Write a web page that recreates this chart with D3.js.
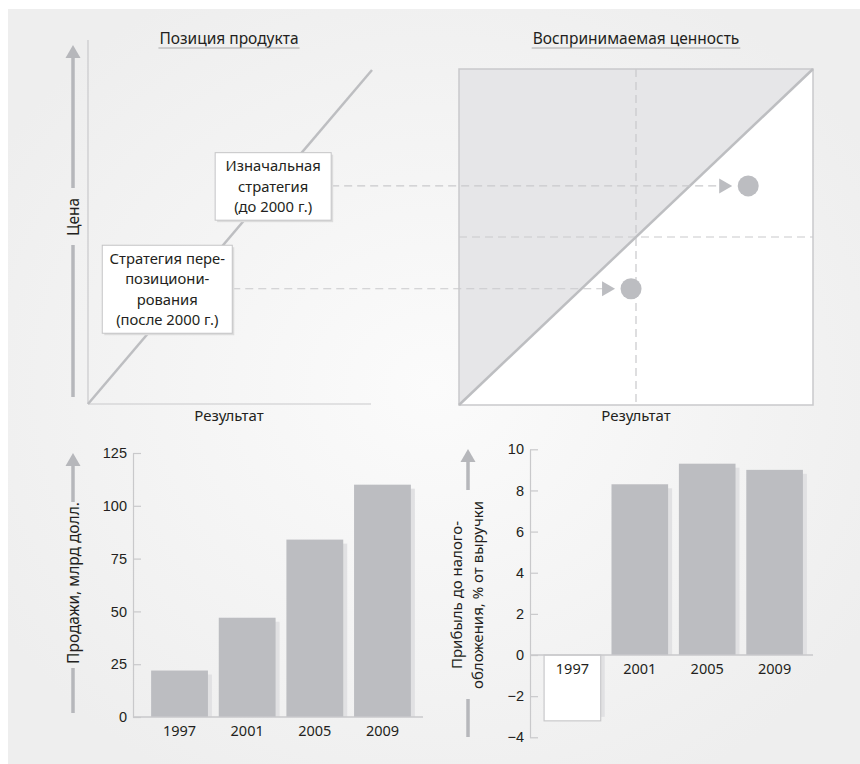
<!DOCTYPE html>
<html>
<head>
<meta charset="utf-8">
<script src="https://cdn.jsdelivr.net/npm/d3@7"></script>
<style>
  body { margin: 0; background: #fff; }
  svg { display: block; font-family: "Noto Sans", "Open Sans", sans-serif; }
  .tick text { font-size: 14.5px; fill: #231f20; }
</style>
</head>
<body>
<div id="chart"></div>
<script>
// data
const years = ["1997", "2001", "2005", "2009"];
const sales = [22, 47, 84, 110];            // млрд долл.
const profit = [-3.2, 8.3, 9.3, 9.0];       // % от выручки
const salesTicks = [0, 25, 50, 75, 100, 125];
const profitTicks = [-4, -2, 0, 2, 4, 6, 8, 10];

// стратегии: результат и цена в долях шкалы
const strategyLabels = [
  ["Изначальная", "стратегия", "(до 2000 г.)"],
  ["Стратегия пере-", "позициони-", "рования", "(после 2000 г.)"]
];
const strategyResult = [0.817, 0.486];
const strategyPrice = [0.652, 0.346];

const width = 860, height = 764;
const barColor = "#bcbdc1", shadowColor = "#e1e1e3", lineColor = "#c9c9cb", textColor = "#231f20";

const svg = d3.select("#chart").append("svg")
  .attr("width", width)
  .attr("height", height);

const defs = svg.append("defs");
const grad = defs.append("radialGradient").attr("id", "bg")
  .attr("cx", "0.5").attr("cy", "0.5").attr("r", "0.6");
grad.append("stop").attr("offset", "0%").attr("stop-color", "#fbfbfb");
grad.append("stop").attr("offset", "100%").attr("stop-color", "#eeeeee");

svg.append("rect")
  .attr("x", 8).attr("y", 9)
  .attr("width", width - 8).attr("height", height - 9)
  .attr("fill", "url(#bg)");

// arrow along a vertical axis; the shaft is broken between gapLow and gapHigh for the label
function axisArrow(x, yBottom, yTop, gapLow, gapHigh) {
  const g = svg.append("g");
  g.append("line").attr("x1", x).attr("x2", x).attr("y1", yBottom).attr("y2", gapLow)
    .attr("stroke", "#b6b7bb").attr("stroke-width", 3.5);
  g.append("line").attr("x1", x).attr("x2", x).attr("y1", gapHigh).attr("y2", yTop + 10)
    .attr("stroke", "#b6b7bb").attr("stroke-width", 3.5);
  g.append("path")
    .attr("d", `M${x},${yTop} L${x + 7.5},${yTop + 13} L${x - 7.5},${yTop + 13} Z`)
    .attr("fill", "#b6b7bb");
}

function title(x, y, txt) {
  const t = svg.append("text").attr("x", x).attr("y", y)
    .attr("text-anchor", "middle").attr("font-size", 15.5).attr("fill", textColor).text(txt);
  const w = t.node().getComputedTextLength();
  svg.append("line").attr("x1", x - w / 2 - 1).attr("x2", x + w / 2 + 1)
    .attr("y1", y + 4).attr("y2", y + 4).attr("stroke", "#a8a8a8").attr("stroke-width", 1);
}

// ---------- top left: позиция продукта ----------
const lx = d3.scaleLinear().domain([0, 1]).range([88, 372]);
const py = d3.scaleLinear().domain([0, 1]).range([404, 70]);

title(229, 44, "Позиция продукта");

svg.append("line").attr("x1", 88).attr("x2", 88).attr("y1", 40).attr("y2", 404)
  .attr("stroke", lineColor).attr("stroke-width", 1.2);
svg.append("line").attr("x1", 88).attr("x2", 371).attr("y1", 404).attr("y2", 404)
  .attr("stroke", lineColor).attr("stroke-width", 1.2);
svg.append("line")
  .attr("x1", lx(0)).attr("y1", py(0)).attr("x2", lx(1)).attr("y2", py(1))
  .attr("stroke", "#bdbec1").attr("stroke-width", 2.5);

axisArrow(73, 397, 45, 245, 188);
svg.append("text").attr("transform", "translate(79,217) rotate(-90)")
  .attr("text-anchor", "middle").attr("font-size", 15.5).attr("fill", textColor).text("Цена");
svg.append("text").attr("x", 229).attr("y", 421).attr("text-anchor", "middle")
  .attr("font-size", 15).attr("fill", textColor).text("Результат");

// ---------- top right: воспринимаемая ценность ----------
const rx = d3.scaleLinear().domain([0, 1]).range([459, 813]);
const ry = d3.scaleLinear().domain([0, 1]).range([405, 69]);

title(636, 44, "Воспринимаемая ценность");

svg.append("rect").attr("x", rx(0)).attr("y", ry(1))
  .attr("width", rx(1) - rx(0)).attr("height", ry(0) - ry(1)).attr("fill", "#fff");
svg.append("path")
  .attr("d", `M${rx(0)},${ry(0)} L${rx(0)},${ry(1)} L${rx(1)},${ry(1)} Z`)
  .attr("fill", "#e6e6e8");

const dash = "8,5";
svg.append("line").attr("x1", rx(0.5)).attr("x2", rx(0.5)).attr("y1", ry(1)).attr("y2", ry(0))
  .attr("stroke", lineColor).attr("stroke-width", 1.2).attr("stroke-dasharray", dash);
svg.append("line").attr("x1", rx(0)).attr("x2", rx(1)).attr("y1", ry(0.5)).attr("y2", ry(0.5))
  .attr("stroke", lineColor).attr("stroke-width", 1.2).attr("stroke-dasharray", dash);

svg.append("rect").attr("x", rx(0)).attr("y", ry(1))
  .attr("width", rx(1) - rx(0)).attr("height", ry(0) - ry(1))
  .attr("fill", "none").attr("stroke", lineColor).attr("stroke-width", 1.5);
svg.append("line")
  .attr("x1", rx(0)).attr("y1", ry(0)).attr("x2", rx(1)).attr("y2", ry(1))
  .attr("stroke", "#bdbec1").attr("stroke-width", 2.5);

svg.append("text").attr("x", 636).attr("y", 421).attr("text-anchor", "middle")
  .attr("font-size", 15).attr("fill", textColor).text("Результат");

// strategy boxes, dashed links, arrowheads, points
const boxShift = [0, -19];
const boxW = [116, 130];
strategyLabels.forEach((lines, i) => {
  const yy = ry(strategyPrice[i]);
  const px = rx(strategyResult[i]);
  const cx = lx(strategyPrice[i]) + boxShift[i];
  const lh = 20.5;
  const bh = lines.length * lh + 6;
  const bx = cx - boxW[i] / 2, by = yy - bh / 2 + 0.5;

  svg.append("line").attr("x1", bx + boxW[i]).attr("x2", px - 28)
    .attr("y1", yy).attr("y2", yy)
    .attr("stroke", lineColor).attr("stroke-width", 1.2).attr("stroke-dasharray", dash);
  svg.append("path")
    .attr("d", `M${px - 29},${yy - 7.5} L${px - 16},${yy} L${px - 29},${yy + 7.5} Z`)
    .attr("fill", barColor);
  svg.append("circle").attr("cx", px).attr("cy", yy).attr("r", 10.5).attr("fill", barColor);

  svg.append("rect").attr("x", bx + 2).attr("y", by + 2).attr("width", boxW[i]).attr("height", bh)
    .attr("fill", "#dcdcdc");
  svg.append("rect").attr("x", bx).attr("y", by).attr("width", boxW[i]).attr("height", bh)
    .attr("fill", "#fff").attr("stroke", "#c4c4c6").attr("stroke-width", 1);
  svg.append("text").attr("text-anchor", "middle").attr("font-size", 14.8).attr("fill", textColor)
    .selectAll("tspan").data(lines).join("tspan")
    .attr("x", cx).attr("y", (d, j) => by + 3 + lh * j + 15.5)
    .text(d => d);
});

// ---------- bar chart helper ----------
function barChart(opt) {
  const x = d3.scaleBand().domain(years).range(opt.xRange).paddingInner(0.16).paddingOuter(0.12);
  const y = d3.scaleLinear().domain(opt.domain).range(opt.yRange);
  const g = svg.append("g");

  // shadows
  g.selectAll(".shadow").data(opt.values).join("rect")
    .attr("x", (d, i) => x(years[i]) + 4)
    .attr("y", d => d >= 0 ? y(d) + 4 : y(0))
    .attr("width", x.bandwidth())
    .attr("height", d => Math.max(0, Math.abs(y(d) - y(0)) - 4))
    .attr("fill", shadowColor);

  g.selectAll(".bar").data(opt.values).join("rect")
    .attr("x", (d, i) => x(years[i]))
    .attr("y", d => y(Math.max(0, d)))
    .attr("width", x.bandwidth())
    .attr("height", d => Math.abs(y(d) - y(0)))
    .attr("fill", d => d >= 0 ? barColor : "#fff")
    .attr("stroke", d => d >= 0 ? "none" : lineColor)
    .attr("stroke-width", 1.2);

  const ax = g.append("g").attr("transform", `translate(${opt.axisX},0)`)
    .call(d3.axisLeft(y).tickValues(opt.ticks).tickSize(-8).tickSizeOuter(0).tickPadding(6));
  ax.select(".domain").attr("stroke", lineColor).attr("stroke-width", 1.2);
  ax.selectAll(".tick line").attr("stroke", lineColor).attr("stroke-width", 1.2);
  ax.selectAll(".tick text").attr("font-family", null);

  g.append("line").attr("x1", opt.axisX).attr("x2", opt.zeroEnd)
    .attr("y1", y(0)).attr("y2", y(0)).attr("stroke", lineColor).attr("stroke-width", 1.5);

  g.selectAll(".yr").data(years).join("text")
    .attr("x", d => x(d) + x.bandwidth() / 2)
    .attr("y", y(0) + opt.labelDy)
    .attr("text-anchor", "middle").attr("font-size", 14.5).attr("fill", textColor)
    .text(d => d);
}

// ---------- bottom left: продажи ----------
barChart({
  values: sales, domain: [0, 125], ticks: salesTicks,
  xRange: [143, 419], yRange: [717, 453], axisX: 133, zeroEnd: 423, labelDy: 19
});
axisArrow(73, 713, 453, 668, 502);
svg.append("text").attr("transform", "translate(79,583) rotate(-90)")
  .attr("text-anchor", "middle").attr("font-size", 15.5).attr("fill", textColor)
  .text("Продажи, млрд долл.");

// ---------- bottom right: прибыль ----------
barChart({
  values: profit, domain: [-4, 10], ticks: profitTicks,
  xRange: [536, 811], yRange: [737.3, 449.3], axisX: 530, zeroEnd: 813, labelDy: 19
});
axisArrow(468, 737, 449, 699, 490);
svg.append("text").attr("transform", "translate(462,595) rotate(-90)")
  .attr("text-anchor", "middle").attr("font-size", 15).attr("fill", textColor)
  .text("Прибыль до налого-");
svg.append("text").attr("transform", "translate(483,595) rotate(-90)")
  .attr("text-anchor", "middle").attr("font-size", 15).attr("fill", textColor)
  .text("обложения, % от выручки");
</script>
</body>
</html>
